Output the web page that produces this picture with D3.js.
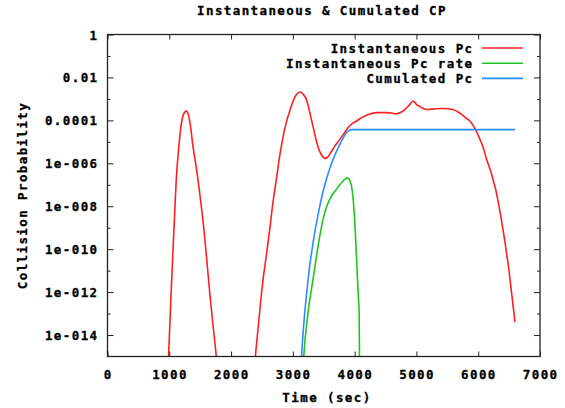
<!DOCTYPE html>
<html>
<head>
<meta charset="utf-8">
<script src="https://cdn.jsdelivr.net/npm/d3@7"></script>
<style>
  html, body { margin: 0; padding: 0; background: #fff; }
  svg text {
    font-family: "DejaVu Sans Mono", "Liberation Mono", monospace;
    font-weight: bold;
    font-size: 12.5px;
    letter-spacing: 1.4px;
    fill: #000;
    stroke: #000;
    stroke-width: 0.3px;
  }
</style>
</head>
<body>
<script>
// ---- data -------------------------------------------------------------
const xTicks = [0, 1000, 2000, 3000, 4000, 5000, 6000, 7000];
const yTicks = [1, 1e-2, 1e-4, 1e-6, 1e-8, 1e-10, 1e-12, 1e-14];
const yTickLabels = ["1", "0.01", "0.0001", "1e-006", "1e-008", "1e-010", "1e-012", "1e-014"];
const yMinorTicks = [1e-1, 1e-3, 1e-5, 1e-7, 1e-9, 1e-11, 1e-13];

const seriesNames = ["Instantaneous Pc", "Instantaneous Pc rate", "Cumulated Pc"];
const seriesColors = ["#ff1f1f", "#1fc41f", "#2b8cff"];

// Instantaneous Pc
const pcTime = [960, 988, 1030, 1075, 1112, 1155, 1204, 1240, 1275, 1310, 1345, 1383,
  1420, 1464, 1510, 1561, 1610, 1660, 1710, 1761, 1800, 2080, 2393, 2450, 2510, 2570,
  2625, 2679, 2733, 2787, 2868, 2976, 3057, 3122, 3170, 3219, 3260, 3300, 3340, 3381,
  3420, 3462, 3527, 3580, 3624, 3690, 3760, 3830, 3894, 3960, 4030, 4140, 4245, 4380,
  4516, 4600, 4677, 4750, 4812, 4880, 4948, 5000, 5056, 5120, 5185, 5300, 5428, 5590,
  5660, 5731, 5800, 5866, 5950, 6028, 6085, 6136, 6190, 6238, 6285, 6325, 6365, 6400,
  6430, 6460, 6490, 6514, 6555, 6595];
const pcValue = [3.2e-17, 1e-15, 1e-12, 7.9e-10, 1.6e-7, 6.3e-6, 1e-4, 2.2e-4, 2.7e-4, 1.8e-4, 5e-5, 6.3e-6,
  1.3e-6, 1.8e-7, 1.6e-8, 7.9e-10, 2.5e-11, 6.3e-13, 2.5e-14, 1e-15, 6.3e-17, 1e-24, 1e-15, 5e-14, 2.5e-12, 5e-11,
  7.9e-10, 1.6e-8, 1.8e-7, 2.2e-6, 4e-5, 4.7e-4, 1.6e-3, 2.1e-3, 1.6e-3, 9.5e-4, 3.5e-4, 1.1e-4, 3.5e-5, 1.1e-5,
  4.5e-6, 2.5e-6, 1.7e-6, 2.2e-6, 3.5e-6, 7e-6, 1.3e-5, 2.5e-5, 4.6e-5, 7e-5, 9.3e-5, 1.5e-4, 2e-4, 2.3e-4,
  2.3e-4, 2.2e-4, 2e-4, 2.4e-4, 3.2e-4, 5e-4, 8e-4, 5.6e-4, 4.4e-4, 3.5e-4, 3.2e-4, 3.5e-4, 3.6e-4, 3.2e-4,
  2.6e-4, 1.9e-4, 1.3e-4, 9.3e-5, 4e-5, 1.3e-5, 5e-6, 1.5e-6, 5.6e-7, 1.8e-7, 5.6e-8, 1.5e-8, 3.5e-9, 8.5e-10,
  2.5e-10, 5.9e-11, 1.6e-11, 4e-12, 4e-13, 4e-14];

// Instantaneous Pc rate
const rateTime = [3140, 3176, 3246, 3327, 3408, 3489, 3543, 3597, 3650, 3706, 3760, 3814,
  3850, 3884, 3920, 3949, 3980, 4003, 4022, 4041, 4058, 4073, 4078, 4082];
const rateValue = [1e-17, 1e-15, 1.1e-13, 4e-12, 1.4e-10, 2.5e-9, 8.9e-9, 2.1e-8, 3.8e-8, 6.2e-8, 1e-7, 1.5e-7,
  1.9e-7, 2.1e-7, 1.6e-7, 8.9e-8, 1.6e-8, 1.7e-9, 1.3e-10, 8.3e-12, 7.9e-13, 1.1e-13, 1e-15, 1e-17];

// Cumulated Pc
const cumTime = [3100, 3140, 3192, 3233, 3273, 3314, 3354, 3395, 3435, 3490, 3543, 3597,
  3651, 3705, 3760, 3814, 3868, 3910, 3949, 6595];
const cumValue = [1e-17, 1e-15, 1.1e-13, 1.6e-12, 1.7e-11, 1.1e-10, 6e-10, 2.6e-9, 1e-8, 5e-8, 1.8e-7, 5.6e-7,
  1.5e-6, 3.5e-6, 7.6e-6, 1.5e-5, 2.7e-5, 3.4e-5, 3.7e-5, 3.7e-5];

// ---- layout -----------------------------------------------------------
const W = 565, H = 408;
const plot = { left: 107.5, right: 540, top: 34.5, bottom: 356.5 };

const svg = d3.select("body").append("svg")
  .attr("width", W).attr("height", H);

const x = d3.scaleLinear().domain([0, 7000]).range([plot.left, plot.right]);
const y = d3.scaleLog().domain([1e-15, 1]).range([plot.bottom, plot.top]);

svg.append("defs").append("clipPath").attr("id", "plotClip")
  .append("rect")
  .attr("x", plot.left).attr("y", plot.top)
  .attr("width", plot.right - plot.left).attr("height", plot.bottom - plot.top);

// ---- curves -----------------------------------------------------------
const line = d3.line()
  .x(d => x(d[0]))
  .y(d => y(d[1]))
  .curve(d3.curveMonotoneX);

const series = [
  d3.zip(pcTime, pcValue),
  d3.zip(rateTime, rateValue),
  d3.zip(cumTime, cumValue)
];

const curves = svg.append("g").attr("clip-path", "url(#plotClip)");
series.forEach((pts, i) => {
  curves.append("path")
    .attr("d", line(pts))
    .attr("fill", "none")
    .attr("stroke", seriesColors[i])
    .attr("stroke-width", 1.6)
    .attr("stroke-linejoin", "round");
});

// ---- axes (ticks point inward, mirrored on top and right) -------------
const axisStyle = g => {
  g.select(".domain").remove();
  g.selectAll(".tick line").attr("stroke", "#222").attr("stroke-width", 1);
  g.selectAll(".tick text").remove();
};

svg.append("g").attr("transform", `translate(0,${plot.bottom})`)
  .call(d3.axisBottom(x).tickValues(xTicks).tickSizeInner(-5).tickSizeOuter(0))
  .call(axisStyle);
svg.append("g").attr("transform", `translate(0,${plot.top})`)
  .call(d3.axisTop(x).tickValues(xTicks).tickSizeInner(-5).tickSizeOuter(0))
  .call(axisStyle);

svg.append("g").attr("transform", `translate(${plot.left},0)`)
  .call(d3.axisLeft(y).tickValues(yTicks).tickSizeInner(-6).tickSizeOuter(0))
  .call(axisStyle);
svg.append("g").attr("transform", `translate(${plot.left},0)`)
  .call(d3.axisLeft(y).tickValues(yMinorTicks).tickSizeInner(-3).tickSizeOuter(0))
  .call(axisStyle);
svg.append("g").attr("transform", `translate(${plot.right},0)`)
  .call(d3.axisRight(y).tickValues(yTicks).tickSizeInner(-6).tickSizeOuter(0))
  .call(axisStyle);
svg.append("g").attr("transform", `translate(${plot.right},0)`)
  .call(d3.axisRight(y).tickValues(yMinorTicks).tickSizeInner(-3).tickSizeOuter(0))
  .call(axisStyle);

// frame
svg.append("rect")
  .attr("x", plot.left).attr("y", plot.top)
  .attr("width", plot.right - plot.left).attr("height", plot.bottom - plot.top)
  .attr("fill", "none").attr("stroke", "#222").attr("stroke-width", 1.3);

// tick labels
svg.append("g").selectAll("text").data(xTicks).join("text")
  .attr("x", d => x(d) + 0.7)
  .attr("y", 379)
  .attr("text-anchor", "middle")
  .text(d => d);

svg.append("g").selectAll("text").data(yTicks).join("text")
  .attr("x", 98.5)
  .attr("y", d => y(d) + 5)
  .attr("text-anchor", "end")
  .text((d, i) => yTickLabels[i]);

// titles
svg.append("text")
  .attr("x", 322).attr("y", 14.5)
  .attr("text-anchor", "middle")
  .text("Instantaneous & Cumulated CP");

svg.append("text")
  .attr("x", 327).attr("y", 402)
  .attr("text-anchor", "middle")
  .text("Time (sec)");

svg.append("text")
  .attr("transform", `translate(27,${(plot.top + plot.bottom) / 2}) rotate(-90)`)
  .attr("text-anchor", "middle")
  .text("Collision Probability");

// ---- legend -----------------------------------------------------------
const legend = svg.append("g");
seriesNames.forEach((name, i) => {
  const ly = 48 + i * 15.2;
  legend.append("text")
    .attr("x", 473.5).attr("y", ly + 4.5)
    .attr("text-anchor", "end")
    .text(name);
  legend.append("line")
    .attr("x1", 482).attr("x2", 523)
    .attr("y1", ly).attr("y2", ly)
    .attr("stroke", seriesColors[i])
    .attr("stroke-width", 1.6);
});
</script>
</body>
</html>
